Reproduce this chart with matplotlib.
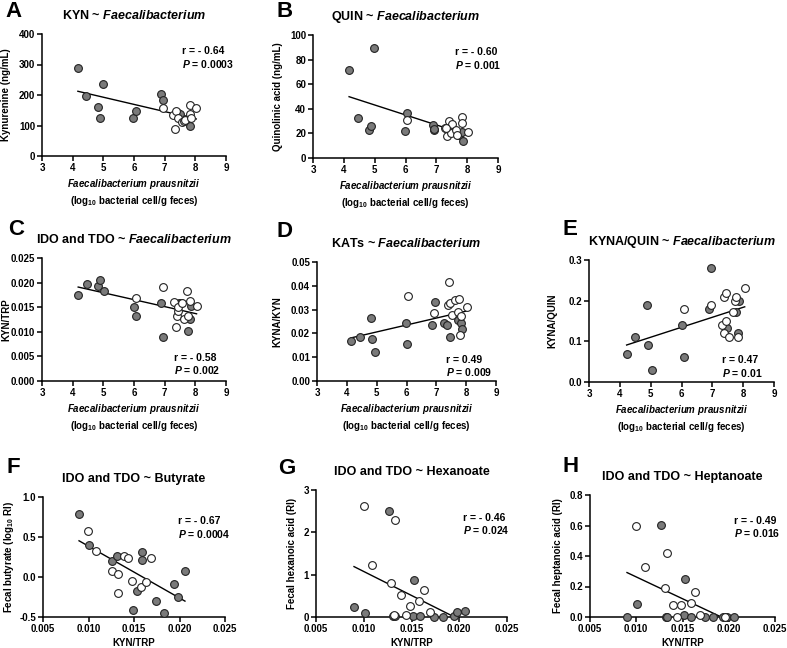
import numpy as np
import matplotlib
matplotlib.use("Agg")
import matplotlib.pyplot as plt

plt.rcParams['font.family'] = ['Liberation Sans', 'DejaVu Sans']
plt.rcParams['font.weight'] = 'bold'
plt.rcParams['mathtext.fontset'] = 'custom'
plt.rcParams['mathtext.rm'] = 'Liberation Sans:bold'
plt.rcParams['mathtext.bf'] = 'Liberation Sans:bold'
plt.rcParams['mathtext.it'] = 'Liberation Sans:bold:italic'
plt.rcParams['mathtext.default'] = 'rm'

# ---------------- data ----------------
# Panel A: KYN vs F. prausnitzii
A_grey_x = [4.17, 4.45, 4.83, 4.88, 4.99, 5.98, 6.05, 6.88, 6.94, 7.45, 7.50, 7.70, 7.78, 7.83]
A_grey_y = [289, 198, 162, 126, 236, 123, 149, 202, 185, 140, 138, 120, 125, 98]
A_open_x = [6.93, 7.28, 7.36, 7.35, 7.42, 7.55, 7.63, 7.65, 7.81, 7.82, 7.85, 8.03]
A_open_y = [157, 134, 148, 89, 126, 111, 115, 118, 168, 138, 125, 159]

# Panel B: QUIN
B_grey_x = [4.17, 4.46, 4.99, 4.82, 4.89, 5.98, 6.05, 6.88, 6.92, 6.94, 7.45, 7.72, 7.75, 7.86, 7.83]
B_grey_y = [71.4, 32.4, 89.7, 22.4, 25.7, 21.6, 36.5, 26.5, 22.4, 23.8, 23.0, 18.9, 18.5, 13.5, 20.8]
B_open_x = [6.05, 7.28, 7.35, 7.42, 7.52, 7.47, 7.63, 7.83, 7.83, 8.03, 7.32, 7.68]
B_open_y = [30.5, 24.0, 17.6, 30.0, 27.8, 20.0, 22.4, 33.2, 28.4, 21.4, 24.3, 18.9]

# Panel C: KYN/TRP
C_grey_x = [4.18, 4.46, 4.83, 4.89, 5.01, 6.00, 6.07, 6.89, 6.95, 7.48, 7.52, 7.84, 7.86, 7.76]
C_grey_y = [0.0174, 0.0198, 0.0194, 0.0206, 0.0183, 0.0151, 0.0132, 0.0159, 0.0090, 0.0158, 0.0158, 0.0125, 0.0153, 0.0101]
C_open_x = [6.08, 6.94, 7.29, 7.38, 7.39, 7.44, 7.44, 7.56, 7.64, 7.72, 7.76, 7.83, 8.04]
C_open_y = [0.0169, 0.0191, 0.0160, 0.0109, 0.0132, 0.0142, 0.0150, 0.0158, 0.0127, 0.0182, 0.0132, 0.0163, 0.0153]

# Panel D: KYNA/KYN
D_grey_x = [4.15, 4.43, 4.81, 4.86, 4.96, 5.97, 6.03, 6.87, 6.94, 7.26, 7.36, 7.46, 7.74, 7.83, 7.87]
D_grey_y = [0.0170, 0.0186, 0.0264, 0.0175, 0.0122, 0.0243, 0.0155, 0.0236, 0.0330, 0.0242, 0.0236, 0.0186, 0.0256, 0.0242, 0.0218]
D_open_x = [6.04, 6.91, 7.42, 7.38, 7.46, 7.54, 7.64, 7.73, 7.76, 7.83, 7.81, 8.03]
D_open_y = [0.0358, 0.0284, 0.0416, 0.0321, 0.0328, 0.0277, 0.0339, 0.0289, 0.0346, 0.0274, 0.0194, 0.0309]

# Panel E: KYNA/QUIN
E_grey_x = [4.22, 4.49, 4.87, 4.92, 5.03, 6.02, 6.08, 6.90, 6.97, 7.49, 7.77, 7.88, 7.84]
E_grey_y = [0.070, 0.110, 0.190, 0.091, 0.030, 0.141, 0.061, 0.180, 0.280, 0.132, 0.171, 0.200, 0.120]
E_open_x = [6.96, 6.09, 7.31, 7.39, 7.39, 7.45, 7.44, 7.55, 7.66, 7.74, 7.77, 7.84, 8.05]
E_open_y = [0.190, 0.180, 0.140, 0.120, 0.210, 0.220, 0.150, 0.111, 0.171, 0.200, 0.210, 0.110, 0.230]

# Panel F: butyrate vs KYN/TRP
F_grey_x = [0.00896, 0.01006, 0.01256, 0.01314, 0.0159, 0.0159, 0.01528, 0.01486, 0.01737, 0.01825, 0.01935, 0.01979, 0.0206]
F_grey_y = [0.785, 0.399, 0.204, 0.262, 0.308, 0.213, -0.173, -0.417, -0.297, -0.450, -0.082, -0.256, 0.080]
F_open_x = [0.00995, 0.01087, 0.01255, 0.01326, 0.01326, 0.01388, 0.01436, 0.01479, 0.01574, 0.0163, 0.01685]
F_open_y = [0.577, 0.325, 0.076, 0.034, -0.194, 0.258, 0.233, -0.053, -0.131, -0.065, 0.237]

# Panel G: hexanoate
G_grey_x = [0.00898, 0.0101, 0.01261, 0.0153, 0.0131, 0.0133, 0.0152, 0.0159, 0.0174, 0.0183, 0.0194, 0.0198, 0.0206]
G_grey_y = [0.243, 0.094, 2.506, 0.870, 0.03, 0.03, 0.03, 0.03, 0.0, 0.0, 0.03, 0.12, 0.15]
G_open_x = [0.01006, 0.01331, 0.0109, 0.01282, 0.0139, 0.01481, 0.0158, 0.0163, 0.01439, 0.0132, 0.0169]
G_open_y = [2.63, 2.30, 1.22, 0.80, 0.52, 0.26, 0.385, 0.64, 0.04, 0.04, 0.11]

# Panel H: heptanoate
H_grey_x = [0.0090, 0.01008, 0.01264, 0.01531, 0.01322, 0.01332, 0.01513, 0.0159, 0.0174, 0.0183, 0.0194, 0.0198, 0.0206]
H_grey_y = [0.0, 0.085, 0.602, 0.246, 0.0, 0.0, 0.01, 0.0, 0.0, 0.0, 0.0, 0.0, 0.0]
H_open_x = [0.0100, 0.01329, 0.01095, 0.01307, 0.01394, 0.01484, 0.01588, 0.01632, 0.0144, 0.01686, 0.0196]
H_open_y = [0.597, 0.419, 0.331, 0.187, 0.080, 0.076, 0.091, 0.163, 0.0, 0.01, 0.0]

faec_xlabel = "$\\mathit{Faecalibacterium\\ prausnitzii}$\n(log$_{10}$ bacterial cell/g feces)"

panels = [
    dict(letter="A", pre="KYN ~ ", it="Faecalibacterium",
         gx=A_grey_x, gy=A_grey_y, ox=A_open_x, oy=A_open_y,
         pos=[42, 34, 226, 156], xlim=(3, 9), xticks=np.arange(3, 10, 1), xfmt="{:.0f}",
         ylim=(0, 400), yticks=np.arange(0, 401, 100), yfmt="{:.0f}",
         ylabel="Kynurenine (ng/mL)", ylx=-0.17, xlabel=faec_xlabel,
         stat=("- 0.64", "0.0003"), stxy=(0.76, 0.90), letxy=(5, 17)),
    dict(letter="B", pre="QUIN ~ ", it="Faecalibacterium",
         gx=B_grey_x, gy=B_grey_y, ox=B_open_x, oy=B_open_y,
         pos=[313, 35, 498, 158], xlim=(3, 9), xticks=np.arange(3, 10, 1), xfmt="{:.0f}",
         ylim=(0, 100), yticks=np.arange(0, 101, 20), yfmt="{:.0f}",
         ylabel="Quinolinic acid (ng/mL)", ylx=-0.16, xlabel=faec_xlabel,
         stat=("- 0.60", "0.001"), stxy=(0.77, 0.90), letxy=(277, 17)),
    dict(letter="C", pre="IDO and TDO ~ ", it="Faecalibacterium",
         gx=C_grey_x, gy=C_grey_y, ox=C_open_x, oy=C_open_y,
         pos=[42, 258, 226, 381], xlim=(3, 9), xticks=np.arange(3, 10, 1), xfmt="{:.0f}",
         ylim=(0, 0.025), yticks=np.linspace(0, 0.025, 6), yfmt="{:.3f}",
         ylabel="KYN/TRP", ylx=-0.168, xlabel=faec_xlabel,
         stat=("- 0.58", "0.002"), stxy=(0.72, 0.23), letxy=(8, 235)),
    dict(letter="D", pre="KATs ~ ", it="Faecalibacterium",
         gx=D_grey_x, gy=D_grey_y, ox=D_open_x, oy=D_open_y,
         pos=[317, 262, 496, 381], xlim=(3, 9), xticks=np.arange(3, 10, 1), xfmt="{:.0f}",
         ylim=(0, 0.05), yticks=np.linspace(0, 0.05, 6), yfmt="{:.2f}",
         ylabel="KYNA/KYN", ylx=-0.195, xlabel=faec_xlabel,
         stat=("0.49", "0.009"), stxy=(0.72, 0.22), letxy=(277, 237)),
    dict(letter="E", pre="KYNA/QUIN ~ ", it="Faecalibacterium",
         gx=E_grey_x, gy=E_grey_y, ox=E_open_x, oy=E_open_y,
         pos=[589, 260, 774, 382], xlim=(3, 9), xticks=np.arange(3, 10, 1), xfmt="{:.0f}",
         ylim=(0, 0.3), yticks=np.linspace(0, 0.3, 4), yfmt="{:.1f}",
         ylabel="KYNA/QUIN", ylx=-0.17, xlabel=faec_xlabel,
         stat=("0.47", "0.01"), stxy=(0.72, 0.22), letxy=(562, 235)),
    dict(letter="F", pre="IDO and TDO ~ Butyrate", it="",
         gx=F_grey_x, gy=F_grey_y, ox=F_open_x, oy=F_open_y,
         pos=[43, 497, 225, 617], xlim=(0.005, 0.025), xticks=np.linspace(0.005, 0.025, 5), xfmt="{:.3f}",
         ylim=(-0.5, 1.0), yticks=np.linspace(-0.5, 1.0, 4), yfmt="{:.1f}",
         ylabel="Fecal butyrate (log$_{10}$ RI)", ylx=-0.15, xlabel="KYN/TRP",
         stat=("- 0.67", "0.0004"), stxy=(0.74, 0.84), letxy=(7, 473)),
    dict(letter="G", pre="IDO and TDO ~ Hexanoate", it="",
         gx=G_grey_x, gy=G_grey_y, ox=G_open_x, oy=G_open_y,
         pos=[316, 490, 507, 617], xlim=(0.005, 0.025), xticks=np.linspace(0.005, 0.025, 5), xfmt="{:.3f}",
         ylim=(0, 3), yticks=np.arange(0, 4, 1), yfmt="{:.0f}",
         ylabel="Fecal hexanoic acid (RI)", ylx=-0.10, xlabel="KYN/TRP",
         stat=("- 0.46", "0.024"), stxy=(0.77, 0.82), letxy=(278, 474)),
    dict(letter="H", pre="IDO and TDO ~ Heptanoate", it="",
         gx=H_grey_x, gy=H_grey_y, ox=H_open_x, oy=H_open_y,
         pos=[590, 495, 775, 617], xlim=(0.005, 0.025), xticks=np.linspace(0.005, 0.025, 5), xfmt="{:.3f}",
         ylim=(0, 0.8), yticks=np.linspace(0, 0.8, 5), yfmt="{:.1f}",
         ylabel="Fecal heptanoic acid (RI)", ylx=-0.146, xlabel="KYN/TRP",
         stat=("- 0.49", "0.016"), stxy=(0.78, 0.83), letxy=(562, 472)),
]

W, H = 787, 648
fig = plt.figure(figsize=(W / 100, H / 100), dpi=100)

grey = "#7a7a7a"
ms = 5.6

for p in panels:
    l, t, r, b = p["pos"]
    ax = fig.add_axes([l / W, 1 - b / H, (r - l) / W, (b - t) / H])
    for s in ["top", "right"]:
        ax.spines[s].set_visible(False)
    for s in ["left", "bottom"]:
        ax.spines[s].set_linewidth(1.1)
    ax.set_xlim(*p["xlim"])
    ax.set_ylim(*p["ylim"])
    ax.set_xticks(p["xticks"])
    ax.set_xticklabels([p["xfmt"].format(v) for v in p["xticks"]])
    ax.set_yticks(p["yticks"])
    ax.set_yticklabels([p["yfmt"].format(v) for v in p["yticks"]])
    ax.tick_params(length=3.5, width=1.1, labelsize=7, pad=1.5)
    for lab in ax.get_xticklabels() + ax.get_yticklabels():
        lab.set_fontweight("bold")

    # regression line on all points
    allx = np.array(p["gx"] + p["ox"])
    ally = np.array(p["gy"] + p["oy"])
    k, c = np.polyfit(allx, ally, 1)
    xs = np.array([allx.min(), allx.max()])
    ax.plot(xs, k * xs + c, color="black", lw=1.0, zorder=2)

    ax.plot(p["gx"], p["gy"], "o", ms=ms, mfc=grey, mec="#222222", mew=0.8,
            clip_on=False, zorder=3)
    ax.plot(p["ox"], p["oy"], "o", ms=ms, mfc="white", mec="#222222", mew=0.8,
            clip_on=False, zorder=4)

    title = p["pre"] + (("$\\mathit{" + p["it"] + "}$") if p["it"] else "")
    ax.set_title(title, fontsize=9, fontweight="bold", pad=11)

    ax.set_ylabel(p["ylabel"], fontsize=7, fontweight="bold")
    ax.yaxis.set_label_coords(p["ylx"], 0.5)
    ax.set_xlabel(p["xlabel"], fontsize=7, fontweight="bold", labelpad=3, linespacing=1.3)

    rr, pp = p["stat"]
    ax.text(p["stxy"][0], p["stxy"][1], "r = " + rr + "\n$\\mathit{P}$ = " + pp,
            transform=ax.transAxes, ha="left", va="top", fontsize=7.5,
            fontweight="bold", linespacing=1.15)

    lx, ly = p["letxy"]
    fig.text(lx / W, 1 - ly / H, p["letter"], fontsize=16, fontweight="bold",
             ha="left", va="baseline")

fig.savefig("out.png", dpi=100)
